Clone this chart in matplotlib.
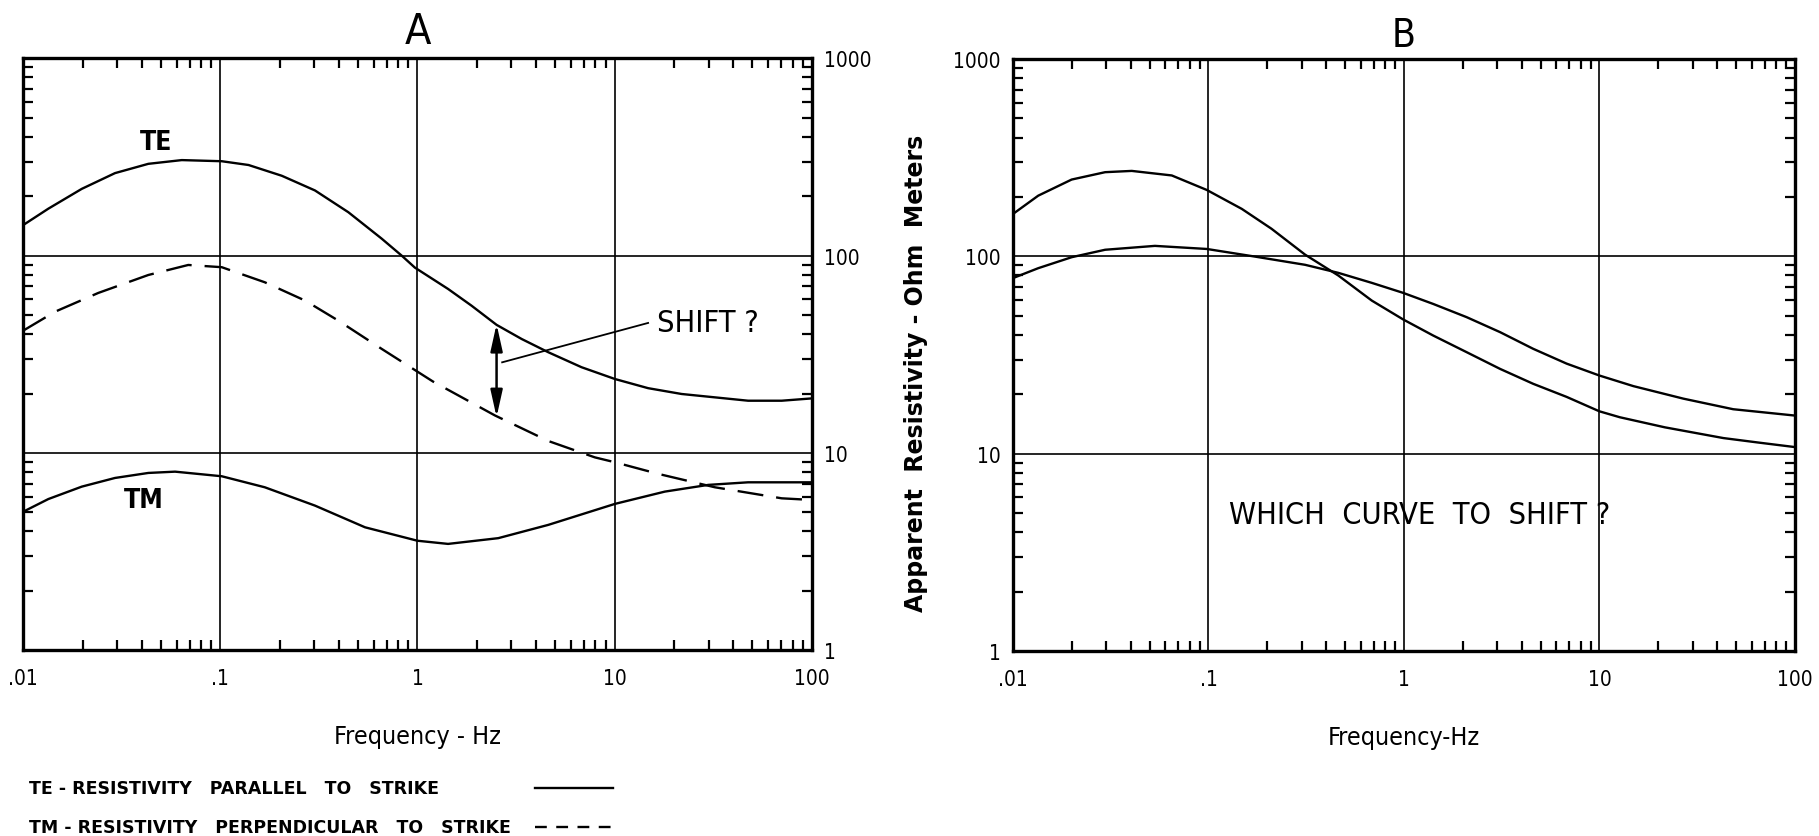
import matplotlib
matplotlib.use('Agg')
import matplotlib.pyplot as plt
import numpy as np
from matplotlib import font_manager
from matplotlib.lines import Line2D
from matplotlib.ticker import FixedLocator, LogLocator, NullFormatter

# condensed lettering if available
names = set(f.name for f in font_manager.fontManager.ttflist)
if 'Liberation Sans Narrow' in names:
    NARROW = dict(family='Liberation Sans Narrow')
else:
    NARROW = dict(family='DejaVu Sans', stretch='condensed')

# panel A
te_a_f = [.01, .0134, .0198, .0292, .0431, .0637, .1016, .139, .205, .302,
          .446, .658, .832, .97, 1.43, 1.88, 2.52, 3.38, 4.61, 6.8, 10.05,
          14.8, 21.9, 47.6, 70.5, 100]
te_a = [143, 173, 218, 262, 292, 305, 301, 288, 254, 214,
        166, 122, 100, 87, 67.8, 55.8, 44.6, 37.8, 32.4, 27.2, 23.7,
        21.3, 19.9, 18.4, 18.4, 18.9]

tm_dash_a_f = [.01, .0145, .024, .0431, .0687, .1016, .168, .269, .396, .658,
               1.2, 2.47, 4.61, 7.94, 10.05, 16.7, 32.3, 70.5, 100]
tm_dash_a = [41.7, 52, 64.7, 79.8, 89.7, 87.4, 73.3, 59.2, 46.9, 33.7,
             23, 15.5, 11.5, 9.5, 8.97, 7.83, 6.7, 5.89, 5.78]

tm_a_f = [.01, .0134, .0198, .0292, .0431, .0589, .1016, .168, .302, .542,
          1.0, 1.43, 2.57, 4.61, 10.05, 18.0, 29.9, 47.6, 100]
tm_a = [5.04, 5.84, 6.75, 7.47, 7.92, 8.04, 7.62, 6.7, 5.41, 4.2,
        3.59, 3.46, 3.7, 4.32, 5.52, 6.37, 6.89, 7.1, 7.1]

# panel B
b1_f = [.01, .01346, .01995, .0296, .0405, .0649, .098, .148, .21, .312,
        .461, .684, .99, 1.41, 2.09, 3.1, 4.58, 6.79, 9.98, 12.7, 21.6,
        43, 64.4, 100]
b1 = [164, 203, 245, 267, 271, 257, 217, 174, 138, 102,
      80, 59.7, 47.9, 39.7, 32.7, 26.9, 22.6, 19.4, 16.4, 15.3, 13.6,
      12.0, 11.4, 10.8]

b2_f = [.01, .01346, .01995, .0296, .0532, .098, .173, .312, .461, .684,
        .99, 1.41, 2.09, 3.1, 4.58, 6.79, 9.98, 14.9, 26.9, 48.3, 100]
b2 = [77.6, 87.1, 99, 108, 113, 109, 99.7, 90.6, 82.5, 73.4,
      65.3, 57.4, 49.2, 41.3, 34, 28.6, 24.9, 22, 19, 16.8, 15.6]

xticks = [.01, .1, 1, 10, 100]
xticklabels = ['.01', '.1', '1', '10', '100']
yticks = [1, 10, 100, 1000]
yticklabels = ['1', '10', '100', '1000']

fig = plt.figure(figsize=(18.19, 8.37), dpi=100)
axA = fig.add_axes([0.0128, 0.2219, 0.4334, 0.7072])
axB = fig.add_axes([0.5569, 0.2210, 0.4299, 0.7073])


def setup(ax, right_labels):
    ax.set_xscale('log')
    ax.set_yscale('log')
    ax.set_xlim(0.01, 100)
    ax.set_ylim(1, 1000)
    ax.xaxis.set_major_locator(FixedLocator(xticks))
    ax.yaxis.set_major_locator(FixedLocator(yticks))
    ax.set_xticklabels(xticklabels, fontsize=15, **NARROW)
    ax.set_yticklabels(yticklabels, fontsize=15, **NARROW)
    for axis in (ax.xaxis, ax.yaxis):
        axis.set_minor_locator(LogLocator(base=10, subs=np.arange(2, 10)))
        axis.set_minor_formatter(NullFormatter())
    ax.tick_params(which='minor', direction='in', length=7, width=1.6,
                   top=True, bottom=True, left=True, right=True)
    ax.tick_params(which='major', length=0)
    ax.tick_params(axis='x', which='major', pad=13)
    ax.tick_params(axis='y', which='major', pad=9,
                   labelleft=not right_labels, labelright=right_labels)
    for x in (0.1, 1, 10):
        ax.axvline(x, color='k', lw=1.2, zorder=1)
    for y in (10, 100):
        ax.axhline(y, color='k', lw=1.2, zorder=1)
    for sp in ax.spines.values():
        sp.set_linewidth(2.4)


setup(axA, True)
setup(axB, False)

# ---- A ----
axA.plot(te_a_f, te_a, color='k', lw=1.7)
axA.plot(tm_dash_a_f, tm_dash_a, color='k', lw=1.7, linestyle=(0, (11, 5.5)))
axA.plot(tm_a_f, tm_a, color='k', lw=1.7)
axA.text(0.5, 1.047, 'A', transform=axA.transAxes, ha='center', va='center',
         fontsize=31, **NARROW)
axA.text(0.0471, 377, 'TE', ha='center', va='center', fontsize=19,
         fontweight='bold', **NARROW)
axA.text(0.0409, 5.78, 'TM', ha='center', va='center', fontsize=19,
         fontweight='bold', **NARROW)
axA.text(16.4, 45.6, 'SHIFT ?', ha='left', va='center', fontsize=22, **NARROW)
axA.plot([14.8, 2.69], [45.6, 28.8], color='k', lw=1.3)
axA.annotate('', xy=(2.52, 15.2), xytext=(2.52, 45),
             arrowprops=dict(arrowstyle='<|-|>,head_length=0.9,head_width=0.2',
                             lw=1.8, color='k', shrinkA=0, shrinkB=0,
                             mutation_scale=18))
axA.set_xlabel('Frequency - Hz', fontsize=18, **NARROW)
axA.xaxis.set_label_coords(0.5, -0.125)

# ---- B ----
axB.plot(b1_f, b1, color='k', lw=1.7)
axB.plot(b2_f, b2, color='k', lw=1.7)
axB.text(0.5, 1.04, 'B', transform=axB.transAxes, ha='center', va='center',
         fontsize=28, **NARROW)
axB.text(0.127, 4.91, 'WHICH  CURVE  TO  SHIFT ?', ha='left', va='center',
         fontsize=22, **NARROW)
axB.set_xlabel('Frequency-Hz', fontsize=18, **NARROW)
axB.xaxis.set_label_coords(0.5, -0.125)
axB.set_ylabel('Apparent  Resistivity - Ohm  Meters', fontsize=17,
               fontweight='bold', family='DejaVu Sans', va='center')
axB.yaxis.set_label_coords(-0.124, 0.47)

# ---- key at bottom left ----
fig.text(0.016, 0.0573, 'TE - RESISTIVITY   PARALLEL   TO   STRIKE', fontsize=12.5,
         fontweight='bold', va='center', family='DejaVu Sans')
fig.text(0.016, 0.0108, 'TM - RESISTIVITY   PERPENDICULAR   TO   STRIKE', fontsize=12.5,
         fontweight='bold', va='center', family='DejaVu Sans')
fig.add_artist(Line2D([0.294, 0.337], [0.0573, 0.0573], color='k', lw=1.7,
                      transform=fig.transFigure))
fig.add_artist(Line2D([0.294, 0.337], [0.0108, 0.0108], color='k', lw=1.7,
                      linestyle=(0, (5, 4)), transform=fig.transFigure))

fig.savefig('out.png', dpi=100)
